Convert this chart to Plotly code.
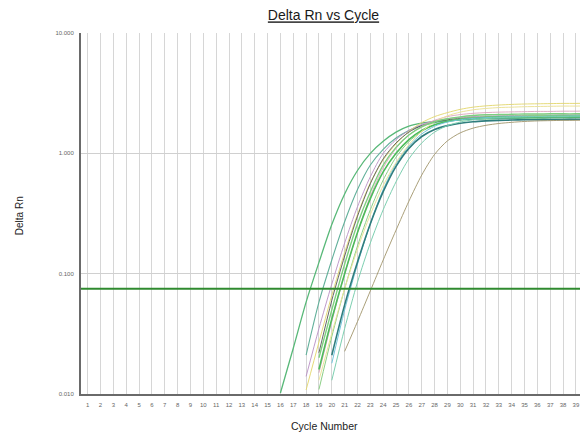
import plotly.graph_objects as go

# ---- data ----
cycle_ticks = list(range(1, 41))
y_tick_vals = [0.01, 0.1, 1, 10]
y_tick_text = ["0.010", "0.100", "1.000", "10.000"]
threshold = 0.075

curve_a_start = 16
curve_a = [0.0102, 0.024, 0.058, 0.124, 0.256, 0.46, 0.72, 1.0, 1.26, 1.5, 1.68, 1.78, 1.84,
           1.88, 1.9, 1.92, 1.93, 1.94, 1.95, 1.96, 1.96, 1.97, 1.97, 1.98, 1.98]
curve_b_start = 18
curve_b = [0.021, 0.058, 0.13, 0.27, 0.5, 0.8, 1.08, 1.34, 1.55, 1.7, 1.8, 1.86, 1.9, 1.93,
           1.95, 1.96, 1.97, 1.98, 1.99, 2.0, 2.0, 2.01, 2.02]
curve_c_start = 18
curve_c = [0.014, 0.035, 0.082, 0.18, 0.36, 0.64, 1.0, 1.3, 1.55, 1.74, 1.86, 1.94, 1.99, 2.02,
           2.04, 2.05, 2.06, 2.07, 2.08, 2.08, 2.09, 2.09, 2.1]
curve_d_start = 18
curve_d = [0.0108, 0.027, 0.066, 0.15, 0.31, 0.57, 0.88, 1.2, 1.52, 1.8, 2.02, 2.18, 2.32, 2.42,
           2.48, 2.52, 2.55, 2.57, 2.58, 2.59, 2.6, 2.6, 2.61]
curve_e_start = 19
curve_e = [0.022, 0.06, 0.14, 0.3, 0.56, 0.9, 1.22, 1.5, 1.7, 1.82, 1.9, 1.95, 1.98, 2.0, 2.01,
           2.02, 2.03, 2.04, 2.04, 2.05, 2.05, 2.06]
curve_f_start = 19
curve_f = [0.015, 0.04, 0.1, 0.22, 0.44, 0.76, 1.1, 1.42, 1.68, 1.88, 2.02, 2.1, 2.15, 2.18, 2.2,
           2.21, 2.22, 2.23, 2.23, 2.24, 2.24, 2.25]
curve_g_start = 19
curve_g = [0.0109, 0.03, 0.075, 0.17, 0.34, 0.6, 0.93, 1.25, 1.52, 1.72, 1.85, 1.93, 1.98, 2.01,
           2.03, 2.04, 2.05, 2.06, 2.06, 2.07, 2.07, 2.08]
curve_h_start = 19
curve_h = [0.016, 0.042, 0.1, 0.22, 0.42, 0.7, 1.0, 1.3, 1.55, 1.73, 1.84, 1.91, 1.95, 1.98, 2.0,
           2.0, 2.01, 2.01, 2.02, 2.02, 2.02, 2.03]
curve_i_start = 20
curve_i = [0.018, 0.05, 0.12, 0.26, 0.5, 0.82, 1.15, 1.45, 1.68, 1.82, 1.9, 1.95, 1.98, 2.0, 2.01,
           2.02, 2.02, 2.03, 2.03, 2.04, 2.04]
curve_j_start = 20
curve_j = [0.021, 0.055, 0.125, 0.26, 0.48, 0.78, 1.1, 1.38, 1.58, 1.7, 1.78, 1.83, 1.86, 1.88,
           1.89, 1.9, 1.9, 1.91, 1.91, 1.92, 1.92]
curve_k_start = 19
curve_k = [0.013, 0.032, 0.075, 0.16, 0.31, 0.54, 0.84, 1.18, 1.52, 1.82, 2.05, 2.2, 2.3, 2.36,
           2.4, 2.42, 2.44, 2.45, 2.46, 2.47, 2.47, 2.48]
curve_l_start = 20
curve_l = [0.013, 0.035, 0.085, 0.18, 0.34, 0.58, 0.9, 1.22, 1.5, 1.7, 1.82, 1.9, 1.95, 1.98, 2.0,
           2.01, 2.02, 2.03, 2.03, 2.04, 2.04]
curve_m_start = 21
curve_m = [0.0226, 0.04, 0.072, 0.13, 0.23, 0.4, 0.66, 0.98, 1.27, 1.48, 1.62, 1.71, 1.77, 1.81,
           1.84, 1.86, 1.87, 1.88, 1.88, 1.89]
curve_n_start = 19
curve_n = [0.02, 0.05, 0.12, 0.26, 0.48, 0.8, 1.12, 1.42, 1.66, 1.83, 1.94, 2.01, 2.06, 2.09, 2.1,
           2.11, 2.12, 2.12, 2.13, 2.13, 2.13, 2.14]

curves = [
    (curve_a_start, curve_a, "#58b878", 1.3),
    (curve_b_start, curve_b, "#62b09a", 1.1),
    (curve_c_start, curve_c, "#b88ec4", 0.9),
    (curve_d_start, curve_d, "#e2d66a", 0.9),
    (curve_e_start, curve_e, "#555555", 0.9),
    (curve_f_start, curve_f, "#dca4bc", 0.9),
    (curve_g_start, curve_g, "#8ccf86", 1.0),
    (curve_h_start, curve_h, "#4cbb5a", 1.6),
    (curve_i_start, curve_i, "#72c4da", 1.0),
    (curve_j_start, curve_j, "#2f7d7d", 1.6),
    (curve_k_start, curve_k, "#ece39a", 1.0),
    (curve_l_start, curve_l, "#7ccfb0", 1.0),
    (curve_m_start, curve_m, "#a0946a", 0.9),
    (curve_n_start, curve_n, "#7fcf7f", 1.4),
]

fig = go.Figure()
for start, vals, color, width in curves:
    xs = list(range(start, start + len(vals)))
    fig.add_trace(go.Scatter(x=xs, y=vals, mode="lines",
                             line=dict(color=color, width=width, shape="spline", smoothing=0.8),
                             showlegend=False, hoverinfo="skip"))

fig.add_shape(type="line", xref="paper", x0=0, x1=1, yref="y", y0=threshold, y1=threshold,
              line=dict(color="#2f8a2f", width=2))

font_family = "Liberation Sans, Arial, sans-serif"

# page body has an 8px default margin, so the figure is 580x426 and starts at (8, 8)
W, H = 580, 426
fig.update_layout(
    width=W, height=H,
    margin=dict(l=73, r=0, t=25, b=40, pad=0),
    paper_bgcolor="white", plot_bgcolor="white",
    font=dict(family=font_family, color="#333333"),
    title=dict(text="<u>Delta Rn vs Cycle</u>", x=(323.5 - 8) / W, xanchor="center",
               y=1 - 7.5 / H, yanchor="middle", yref="container",
               font=dict(size=14, color="#1a1a1a", family=font_family)),
    xaxis=dict(range=[0.48, 39.94], tickvals=cycle_ticks,
               ticktext=[str(c) for c in cycle_ticks],
               tickfont=dict(size=6, color="#666666"), ticks="", ticklabelstandoff=4,
               showgrid=True, gridcolor="#d6d6d6", gridwidth=1,
               showline=True, linecolor="#6a6a6a", linewidth=2, zeroline=False),
    yaxis=dict(type="log", range=[-2, 1], tickvals=y_tick_vals, ticktext=y_tick_text,
               tickfont=dict(size=6, color="#666666"), ticks="", ticklabelstandoff=4,
               showgrid=True, gridcolor="#d0d0d0", gridwidth=1,
               showline=True, linecolor="#6a6a6a", linewidth=2, zeroline=False),
    annotations=[
        dict(text="Cycle Number", xref="paper", yref="paper", x=(324 - 81) / 507,
             y=-(426 - 394.3) / 361, xanchor="center", yanchor="middle", showarrow=False,
             font=dict(size=10.5, color="#222222", family=font_family)),
        dict(text="Delta Rn", xref="paper", yref="paper", x=(19.5 - 81) / 507,
             y=(394.3 - 216) / 361, xanchor="center", yanchor="middle", showarrow=False,
             textangle=-90, font=dict(size=10, color="#222222", family=font_family)),
    ],
)

fig.write_html("out.html")
